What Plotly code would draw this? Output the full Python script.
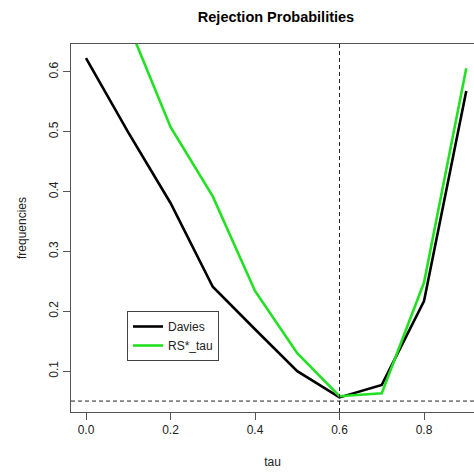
import plotly.graph_objects as go

tau = [0.0, 0.1, 0.2, 0.3, 0.4, 0.5, 0.6, 0.7, 0.8, 0.9]
davies = [0.623, 0.499, 0.381, 0.241, 0.170, 0.100, 0.056, 0.077, 0.217, 0.568]
rs_tau = [0.86, 0.68, 0.508, 0.392, 0.234, 0.130, 0.058, 0.063, 0.248, 0.606]
x_ticks = [0.0, 0.2, 0.4, 0.6, 0.8]
y_ticks = [0.1, 0.2, 0.3, 0.4, 0.5, 0.6]
ref_tau = 0.6
ref_level = 0.05

FONT = "Liberation Sans, Arial, sans-serif"
GREEN = "#22e022"

fig = go.Figure()
fig.add_trace(go.Scatter(x=tau, y=davies, mode="lines", name="Davies",
                         line=dict(color="black", width=2.6)))
fig.add_trace(go.Scatter(x=tau, y=rs_tau, mode="lines", name="RS*_tau",
                         line=dict(color=GREEN, width=2.6)))

fig.add_vline(x=ref_tau, line=dict(color="#222", width=1, dash="4px,3px"))
fig.add_hline(y=ref_level, line=dict(color="#222", width=1, dash="4px,3px"))

fig.update_layout(
    width=474, height=475,
    margin=dict(l=71, r=0, t=44, b=63),
    paper_bgcolor="white", plot_bgcolor="white",
    font=dict(family=FONT, size=12, color="#222"),
    title=dict(text="<b>Rejection Probabilities</b>", x=276/474, xanchor="center",
               xref="container", y=1 - 17/475, yref="container", yanchor="middle",
               font=dict(size=14.5, color="black")),
    showlegend=True,
    legend=dict(x=(127-71)/403, y=(412-311)/368, xanchor="left", yanchor="top",
                bgcolor="white", bordercolor="#444", borderwidth=1,
                font=dict(size=12, color="#222"), tracegroupgap=0,
                itemwidth=30),
)
fig.update_xaxes(range=[-0.0355, 0.9183], tickvals=x_ticks,
                 ticktext=[f"{v:.1f}" for v in x_ticks],
                 showgrid=False, zeroline=False, showline=True, mirror=True,
                 linecolor="#555", linewidth=1, ticks="outside", ticklen=7,
                 tickcolor="#555",
                 title=dict(text="tau", standoff=21, font=dict(size=12)))
fig.update_yaxes(range=[0.0317, 0.6467], tickvals=y_ticks,
                 ticktext=[f"{v:.1f}" for v in y_ticks], tickangle=-90,
                 showgrid=False, zeroline=False, showline=True, mirror=False,
                 linecolor="#555", linewidth=1, ticks="outside", ticklen=7,
                 tickcolor="#555",
                 title=dict(text="frequencies", standoff=18, font=dict(size=12)))

fig.write_html("out.html")
